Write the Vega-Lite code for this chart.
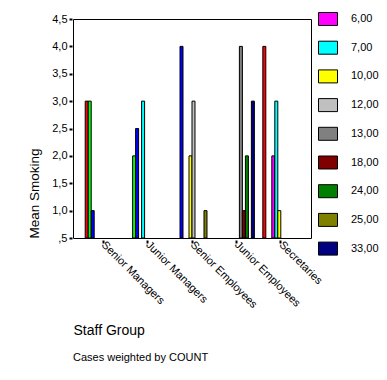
{
  "$schema": "https://vega.github.io/schema/vega-lite/v6.json",
  "width": 238,
  "height": 219,
  "autosize": {"type": "none"},
  "padding": {"left": 73, "top": 19, "right": 76, "bottom": 142},
  "background": "white",
  "title": {
    "text": "Cases weighted by COUNT",
    "orient": "bottom",
    "anchor": "start",
    "frame": "group",
    "font": "Liberation Sans",
    "fontSize": 11,
    "fontWeight": "normal",
    "color": "black",
    "offset": 14
  },
  "data": {
    "values": [
      {"staff": "Senior Managers", "smoking": "1,00", "mean": 3.0},
      {"staff": "Senior Managers", "smoking": "2,00", "mean": 3.0},
      {"staff": "Senior Managers", "smoking": "3,00", "mean": 1.0},
      {"staff": "Junior Managers", "smoking": "2,00", "mean": 2.0},
      {"staff": "Junior Managers", "smoking": "3,00", "mean": 2.5},
      {"staff": "Junior Managers", "smoking": "7,00", "mean": 3.0},
      {"staff": "Senior Employees", "smoking": "3,00", "mean": 4.0},
      {"staff": "Senior Employees", "smoking": "10,00", "mean": 2.0},
      {"staff": "Senior Employees", "smoking": "12,00", "mean": 3.0},
      {"staff": "Senior Employees", "smoking": "25,00", "mean": 1.0},
      {"staff": "Junior Employees", "smoking": "13,00", "mean": 4.0},
      {"staff": "Junior Employees", "smoking": "18,00", "mean": 1.0},
      {"staff": "Junior Employees", "smoking": "24,00", "mean": 2.0},
      {"staff": "Junior Employees", "smoking": "33,00", "mean": 3.0},
      {"staff": "Secretaries", "smoking": "1,00", "mean": 4.0},
      {"staff": "Secretaries", "smoking": "6,00", "mean": 2.0},
      {"staff": "Secretaries", "smoking": "7,00", "mean": 3.0},
      {"staff": "Secretaries", "smoking": "10,00", "mean": 1.0}
    ]
  },
  "mark": {"type": "bar", "stroke": "black", "strokeWidth": 1},
  "encoding": {
    "x": {
      "field": "staff",
      "type": "nominal",
      "sort": ["Senior Managers", "Junior Managers", "Senior Employees", "Junior Employees", "Secretaries"],
      "scale": {"paddingInner": 0.19, "paddingOuter": 0.275},
      "axis": {
        "title": "Staff Group",
        "titleAnchor": "start",
        "titleAlign": "left",
        "titleFont": "Liberation Sans",
        "titleFontSize": 14,
        "titleFontWeight": "normal",
        "titleColor": "black",
        "titlePadding": 14,
        "labelAngle": 45,
        "labelAlign": "left",
        "labelBaseline": "middle",
        "labelDx": 5,
        "labelFont": "Liberation Sans",
        "labelFontSize": 11,
        "labelColor": "black",
        "labelPadding": 0,
        "domain": false,
        "offset": 2,
        "tickSize": 3,
        "tickWidth": 2,
        "tickColor": "black",
        "grid": false
      }
    },
    "xOffset": {
      "field": "smoking",
      "type": "nominal",
      "sort": ["1,00", "2,00", "3,00", "6,00", "7,00", "10,00", "12,00", "13,00", "18,00", "24,00", "25,00", "33,00"],
      "scale": {"paddingInner": 0, "paddingOuter": 0}
    },
    "y": {
      "field": "mean",
      "type": "quantitative",
      "scale": {"domain": [0.5, 4.5], "zero": false, "nice": false},
      "axis": {
        "title": "Mean Smoking",
        "titleAnchor": "start",
        "titleFont": "Liberation Sans",
        "titleFontSize": 13.5,
        "titleFontWeight": "normal",
        "titleColor": "black",
        "titlePadding": 10,
        "values": [0.5, 1, 1.5, 2, 2.5, 3, 3.5, 4, 4.5],
        "labelExpr": "datum.value == 0.5 ? ',5' : replace(format(datum.value, '.1f'), '.', ',')",
        "labelFont": "Liberation Sans",
        "labelFontSize": 11,
        "labelColor": "black",
        "labelPadding": 2,
        "domain": false,
        "offset": 1,
        "tickSize": 3,
        "tickWidth": 2,
        "tickColor": "black",
        "grid": false
      }
    },
    "y2": {"datum": 0.5},
    "color": {
      "field": "smoking",
      "type": "nominal",
      "sort": ["1,00", "2,00", "3,00", "6,00", "7,00", "10,00", "12,00", "13,00", "18,00", "24,00", "25,00", "33,00"],
      "scale": {
        "domain": ["1,00", "2,00", "3,00", "6,00", "7,00", "10,00", "12,00", "13,00", "18,00", "24,00", "25,00", "33,00"],
        "range": ["#FF0000", "#00FF00", "#0000FF", "#FF00FF", "#00FFFF", "#FFFF00", "#C0C0C0", "#808080", "#800000", "#008000", "#808000", "#000080"]
      },
      "legend": {
        "title": null,
        "values": ["6,00", "7,00", "10,00", "12,00", "13,00", "18,00", "24,00", "25,00", "33,00"],
        "orient": "none",
        "legendX": 245,
        "legendY": -10,
        "symbolType": "M-1,-0.684H1V0.684H-1Z",
        "symbolSize": 361,
        "symbolStrokeColor": "black",
        "symbolStrokeWidth": 1,
        "symbolFillOpacity": 1,
        "symbolOpacity": 1,
        "labelFont": "Liberation Sans",
        "labelFontSize": 11,
        "labelColor": "black",
        "labelOffset": 13,
        "rowPadding": 9.7,
        "padding": 0
      }
    }
  },
  "config": {
    "view": {"stroke": "black", "strokeWidth": 1},
    "bar": {"fillOpacity": 1}
  }
}
